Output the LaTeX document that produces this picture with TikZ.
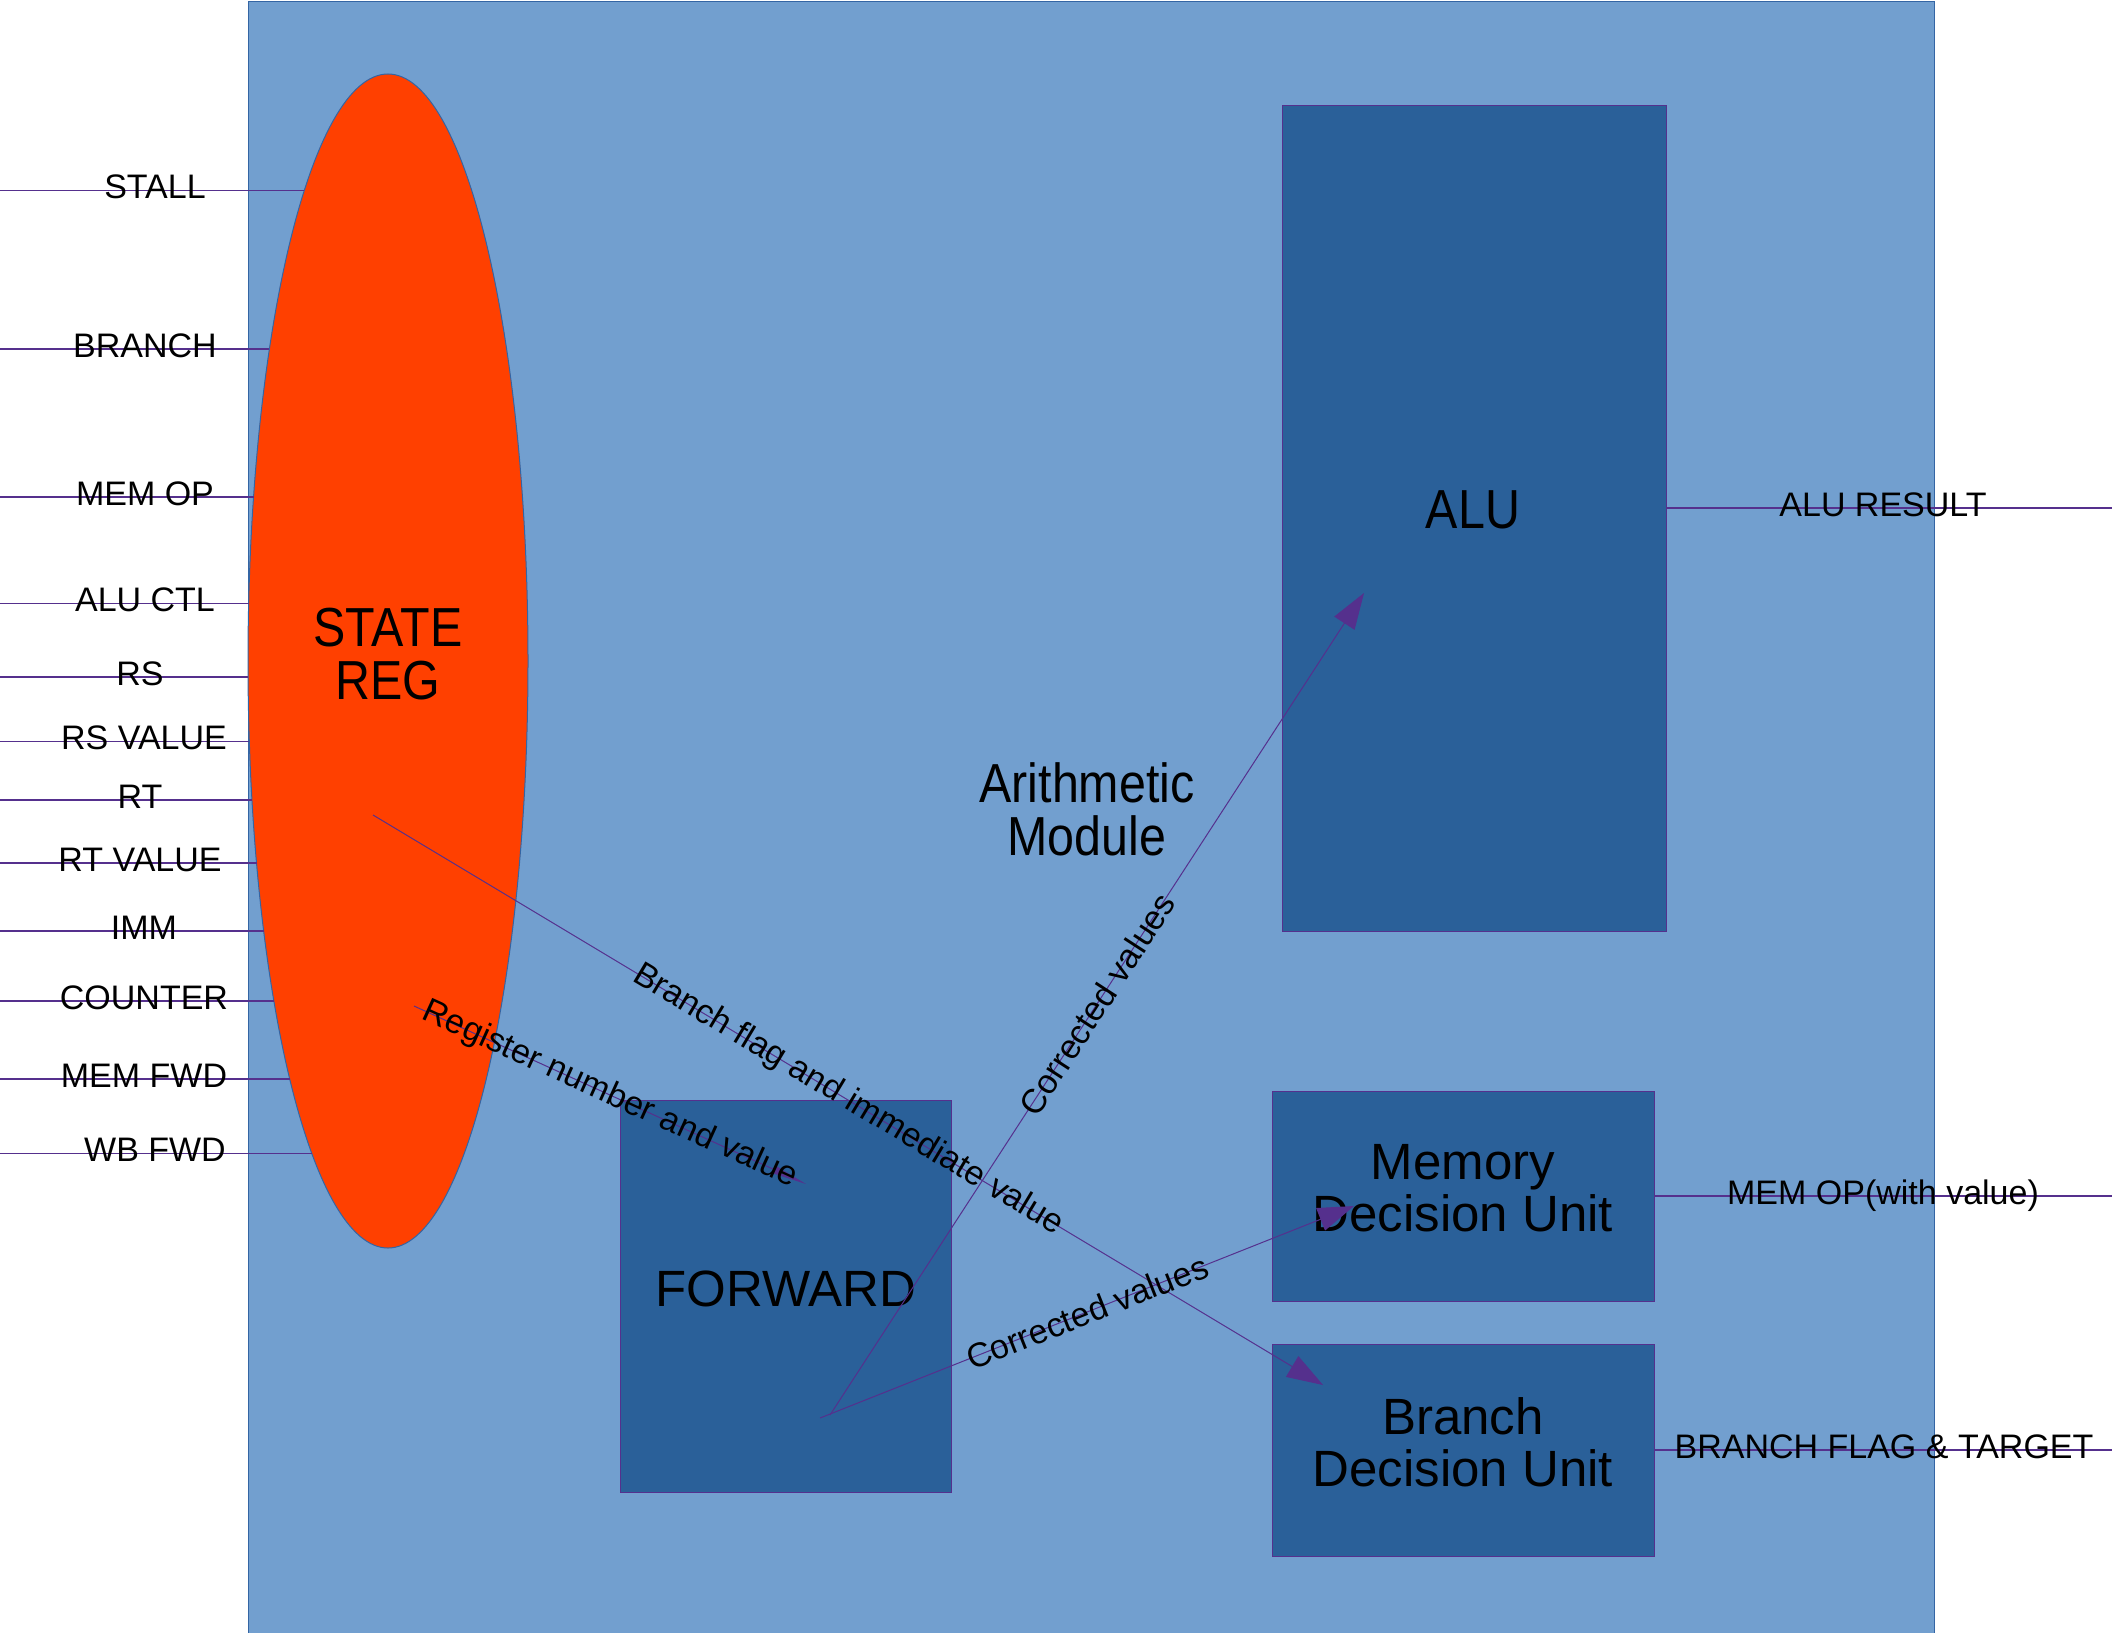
\documentclass[tikz,border=0pt]{standalone}
\usepackage{fontspec}
\setmainfont{Liberation Sans}
\newfontfamily\narrowsf[FakeStretch=0.88]{Liberation Sans}
\usetikzlibrary{arrows.meta,shapes.geometric}
\definecolor{bgblue}{HTML}{729FCF}
\definecolor{boxblue}{HTML}{2A6099}
\definecolor{regred}{HTML}{FF4000}
\definecolor{wire}{HTML}{55308D}
\definecolor{edgeblue}{HTML}{3465A4}
\begin{document}
\begin{tikzpicture}[x=0.5pt,y=-0.5pt,
  unitbox/.style={draw=wire,line width=0.5pt,fill=boxblue,inner sep=0pt,outer sep=0pt},
  sig/.style={draw=wire,line width=0.55pt},
  arr/.style={draw=wire,line width=0.5pt,-{Triangle[length=18pt,width=12pt,fill=wire]}},
  thinarr/.style={draw=wire,line width=0.5pt,-{Triangle[length=18pt,width=4pt,fill=wire]}},
  iolab/.style={inner sep=0pt,anchor=base,font=\fontsize{17pt}{20pt}\selectfont},
  edgelab/.style={inner sep=0pt,midway,sloped,font=\fontsize{17pt}{20pt}\selectfont},
  bignarrow/.style={inner sep=0pt,align=center,font=\narrowsf\fontsize{27.5pt}{26.5pt}\selectfont},
  bignormal/.style={inner sep=0pt,align=center,font=\fontsize{25.5pt}{26pt}\selectfont}]
\useasboundingbox (0,0) rectangle (2112,1632);
% module background
\node[draw=edgeblue,line width=0.5pt,fill=bgblue,inner sep=0pt,minimum width=843pt,minimum height=820pt,anchor=north west] (module) at (248,1) {};
% state register
\node[ellipse,draw=edgeblue,line width=0.5pt,fill=regred,inner sep=0pt,minimum width=140pt,minimum height=587pt] (sr) at (388,661) {};
\node[bignarrow] (srlab) at (388,654) {STATE\\REG};
% input signals
\foreach \yy/\lx/\nm/\lab in {190.6/155/stall/STALL,349/145/branch/BRANCH,497/145/memop/MEM OP,603.6/145/aluctl/ALU CTL,677/140/rs/RS,741.5/144/rsval/RS VALUE,800/140/rt/RT,863/140/rtval/RT VALUE,931/144/imm/IMM,1001/144/counter/COUNTER,1079/144/memfwd/MEM FWD,1153.6/155/wbfwd/WB FWD}{
  \pgfmathsetmacro\xe{388-140*sqrt(1-((\yy-661)/587)^2)}
  \coordinate (in-\nm) at (0,\yy);
  \coordinate (sr-\nm) at (\xe,\yy);
  \draw[sig] (in-\nm) -- (sr-\nm);
  \node[iolab] (lab-\nm) at (\lx,\yy+8) {\lab};
}
% units
\node[unitbox,minimum width=192pt,minimum height=412.5pt] (alu) at (1474,518.5) {};
\node[bignarrow] (alulab) at (1473,510) {ALU};
\node[bignarrow] (arith) at (1087,809) {Arithmetic\\Module};
\node[unitbox,minimum width=165.5pt,minimum height=196pt] (fwd) at (785.5,1296) {};
\node[bignormal] (fwdlab) at (786,1289) {FORWARD};
\node[unitbox,minimum width=191pt,minimum height=105pt] (mdu) at (1463,1196) {};
\node[bignormal] (mdulab) at (1463,1188) {Memory\\Decision Unit};
\node[unitbox,minimum width=191pt,minimum height=106pt] (bdu) at (1463,1450) {};
\node[bignormal] (bdulab) at (1463,1442) {Branch\\Decision Unit};
% outputs
\coordinate (aluout) at (2112,508);
\coordinate (memout) at (2112,1196);
\coordinate (brout) at (2112,1450);
\draw[sig] (aluout -| alu.east) -- (aluout);
\draw[sig] (memout -| mdu.east) -- (memout);
\draw[sig] (brout -| bdu.east) -- (brout);
\node[iolab] (lab-aluout) at (1883,516) {ALU RESULT};
\node[iolab] (lab-memout) at (1883,1204) {MEM OP(with value)};
\node[iolab] (lab-brout) at (1884,1458) {BRANCH FLAG \& TARGET};
% internal connectors
\coordinate (bf-s) at (373,815);
\coordinate (bf-e) at (1323,1385);
\coordinate (rg-s) at (414,1006);
\coordinate (rg-e) at (806,1184);
\coordinate (cva-s) at (830,1415);
\coordinate (cva-e) at (1364,593);
\coordinate (cvm-s) at (820,1418);
\coordinate (cvm-e) at (1354,1206);
\draw[arr] (bf-s) -- node[edgelab] (bflab) {Branch flag and immediate value} (bf-e);
\draw[thinarr] (rg-s) -- node[edgelab] (rglab) {Register number and value} (rg-e);
\draw[arr] (cva-s) -- node[edgelab] (cvalab) {Corrected values} (cva-e);
\draw[arr] (cvm-s) -- node[edgelab] (cvmlab) {Corrected values} (cvm-e);
\end{tikzpicture}
\end{document}
